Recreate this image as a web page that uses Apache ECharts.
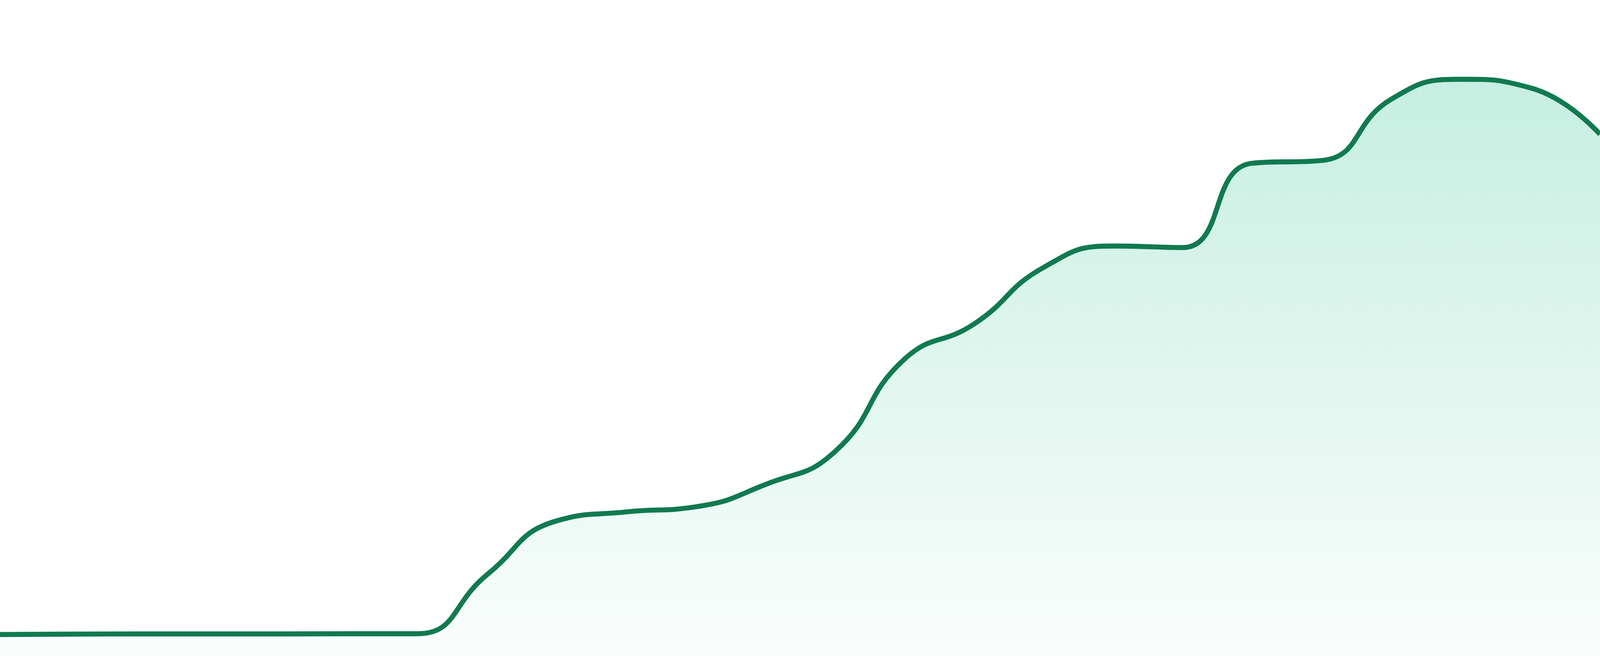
<!DOCTYPE html>
<html>
<head>
<meta charset="utf-8">
<title>area line</title>
<script src="https://cdn.jsdelivr.net/npm/echarts@6/dist/echarts.min.js"></script>
<style>
	html, body { margin: 0; padding: 0; width: 100%; height: 100%; overflow: hidden; background: #fff; }
	#line { width: 100%; height: 100%; }
</style>
</head>
<body>
<div id="line"></div>
<script>
// 数据 (axis hidden)
let categories = ['1', '2', '3', '4', '5', '6', '7', '8', '9', '10', '11', '12',
	'13', '14', '15', '16', '17', '18', '19', '20', '21', '22', '23', '24'];
let values = [55, 56, 56.5, 56.5, 56.5, 57, 57, 208, 346, 369, 382, 439,
	523, 760, 850, 995, 1050, 1046, 1262, 1269, 1426, 1477, 1455, 1336];
let yMin = 0;
let yMax = 1680;

// line is ~15px wide on the 4800px wide picture
let scale = window.innerWidth / 4800;

let myChart = echarts.init(document.getElementById('line'));
myChart.setOption({
	animation: false,
	backgroundColor: '#fff',
	grid: {
		left: 0,
		right: 0,
		top: 0,
		bottom: 0
	},
	xAxis: {
		type: 'category',
		boundaryGap: false,
		data: categories,
		show: false
	},
	yAxis: {
		type: 'value',
		min: yMin,
		max: yMax,
		show: false
	},
	series: [{
		type: 'line',
		smooth: true,
		symbol: 'none',
		lineStyle: {
			color: '#117a50',
			width: 15 * scale
		},
		areaStyle: {
			color: new echarts.graphic.LinearGradient(0, 0, 0, 1, [{
				offset: 0,
				color: 'rgba(16,185,129,0.34)'
			}, {
				offset: 1,
				color: 'rgba(16,185,129,0.03)'
			}])
		},
		data: values
	}]
});
</script>
</body>
</html>
